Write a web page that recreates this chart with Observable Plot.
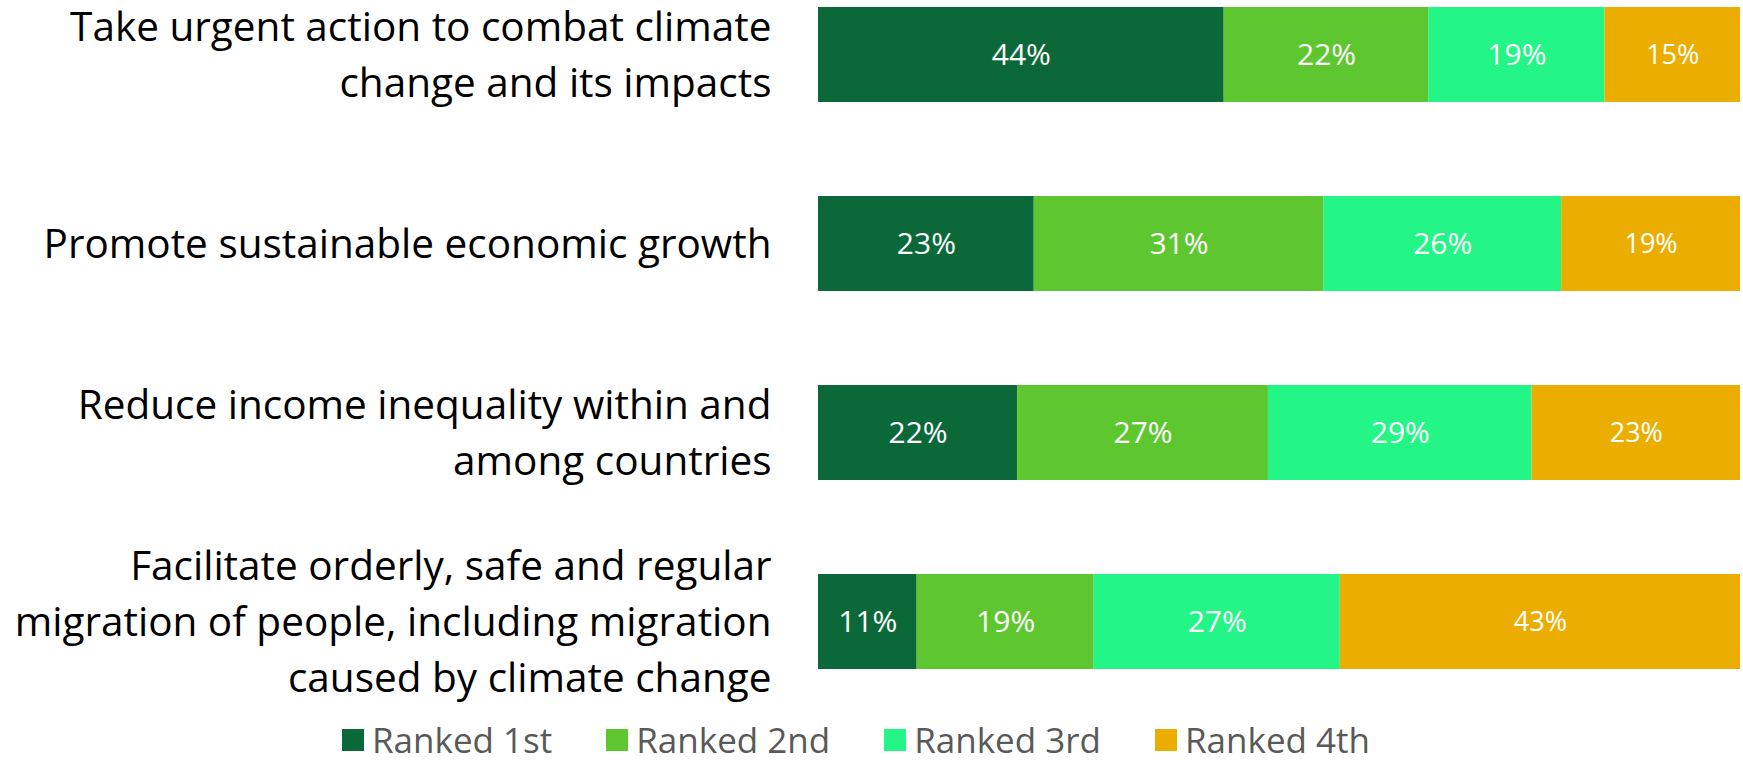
<!DOCTYPE html>
<html>
<head>
<meta charset="utf-8">
<script src="https://cdn.jsdelivr.net/npm/d3@7"></script>
<script src="https://cdn.jsdelivr.net/npm/@observablehq/plot@0.6"></script>
<style>
  html, body { margin: 0; padding: 0; background: #fff; }
  #chart svg { display: block; }
  .lg-swatches { margin-left: 342px !important; min-height: 45px !important; }
  .lg-swatch { margin-right: 54px !important; }
  .lg-swatch svg { margin-right: 8px !important; }
</style>
</head>
<body>
<div id="chart"></div>
<script>
const goals = [
  "Take urgent action to combat climate change and its impacts",
  "Promote sustainable economic growth",
  "Reduce income inequality within and among countries",
  "Facilitate orderly, safe and regular migration of people, including migration caused by climate change"
];
const goalLines = [
  ["Take urgent action to combat climate", "change and its impacts"],
  ["Promote sustainable economic growth"],
  ["Reduce income inequality within and", "among countries"],
  ["Facilitate orderly, safe and regular", "migration of people, including migration", "caused by climate change"]
];
const ranks = ["Ranked 1st", "Ranked 2nd", "Ranked 3rd", "Ranked 4th"];
const ranked1st = [44.0, 23.4, 21.6, 10.7];
const ranked2nd = [22.2, 31.4, 27.2, 19.2];
const ranked3rd = [19.1, 25.8, 28.6, 26.7];
const ranked4th = [14.7, 19.4, 22.6, 43.4];
const colors = ["#0B6939", "#5EC730", "#23F586", "#EBAE00"];

const series = [ranked1st, ranked2nd, ranked3rd, ranked4th];
const data = [];
goals.forEach((g, i) => {
  ranks.forEach((r, j) => {
    data.push({goal: g, rank: r, value: series[j][i], label: Math.round(series[j][i]) + "%"});
  });
});

const font = "'Open Sans', 'Noto Sans', sans-serif";

const plot = Plot.plot({
  width: 1743,
  height: 716,
  marginLeft: 818,
  marginRight: 3,
  marginTop: 6,
  marginBottom: 47,
  x: {domain: [0, 100], axis: null},
  y: {domain: goals, paddingInner: 0.5, paddingOuter: 0, axis: null},
  color: {domain: ranks, range: colors},
  style: {fontFamily: font, background: "#fff", color: "#000"},
  marks: [
    Plot.barX(data, Plot.stackX({x: "value", y: "goal", fill: "rank", order: ranks})),
    Plot.text(data, Plot.stackX({
      x: "value", y: "goal", z: "rank", order: ranks,
      text: "label", fill: "white",
      fontSize: (d) => d.rank === ranks[3] ? 27 : 30
    })),
    Plot.axisY({
      tickSize: 0, tickPadding: 47, fontSize: 40.5, lineHeight: 1.38,
      textAnchor: "end", dy: -4, label: null,
      tickFormat: (d) => goalLines[goals.indexOf(d)].join("\n"),
      fill: "#000"
    })
  ]
});
document.getElementById("chart").appendChild(plot);

const legend = Plot.legend({
  color: {domain: ranks, range: colors},
  legend: "swatches",
  swatchSize: 22,
  className: "lg",
  style: {fontFamily: font, fontSize: "35px", color: "#595959"}
});
document.getElementById("chart").appendChild(legend);
</script>
</body>
</html>
